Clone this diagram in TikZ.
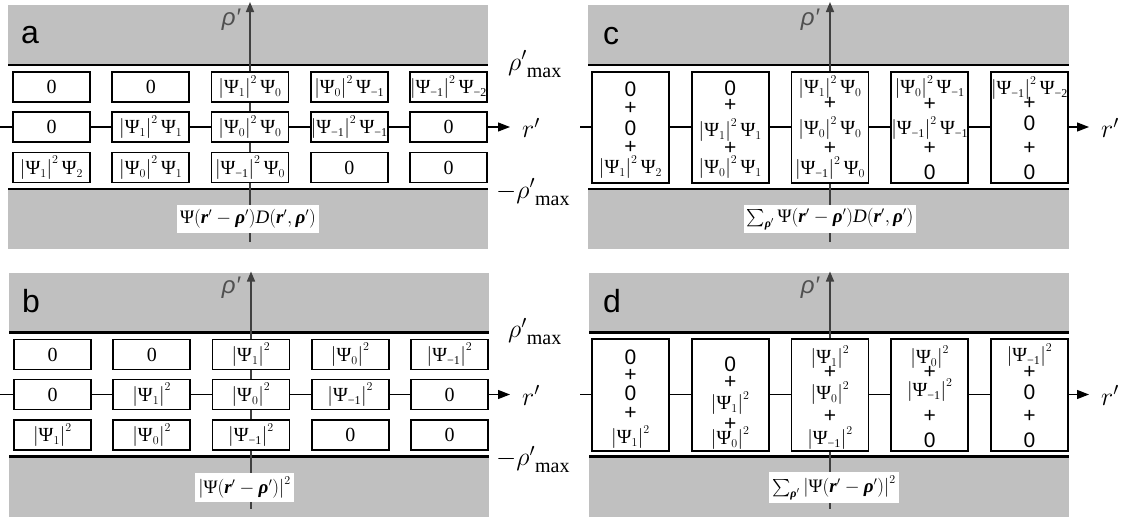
\RequirePackage{fix-cm}
\documentclass[tikz,border=0pt]{standalone}
\usepackage{amsmath}
\usepackage{bm}
\usepackage{fontspec}
\setmainfont{Liberation Serif}
\newfontfamily\arialf{Liberation Sans}
\usetikzlibrary{arrows.meta}
\DeclareMathSizes{20}{20}{12}{9}
\DeclareMathSizes{19}{19}{12}{9}
\definecolor{bandgray}{RGB}{192,192,192}
\definecolor{axgray}{RGB}{64,64,64}
\definecolor{lblgray}{RGB}{80,80,80}
\newcommand\PS{\text{Ψ}}
\newcommand\mo{\text{−1}}
\newcommand\mt{\text{−2}}
\newcommand\Rv{\text{\bfseries\itshape r}^{\prime}}
\newcommand\Rhov{\text{\bfseries\itshape ρ}^{\prime}}
\newcommand\Dit{\text{\itshape D}}
\newcommand\tmT[2]{\left|\PS_{#1}\right|^{2}\PS_{#2}}
\newcommand\sqT[1]{\left|\PS_{#1}\right|^{2}}
\newcommand\rmaxlab{$\rho'$\raisebox{-7pt}{\fontsize{20}{22}\selectfont max}}
\begin{document}
\begin{tikzpicture}[x=1pt,y=-1pt,
  cellA/.style={draw=black,line width=1.6pt,fill=white,minimum width=77pt,minimum height=30pt,inner sep=0pt,font=\fontsize{20}{22}\selectfont},
  cellT/.style={draw=black,line width=1.6pt,fill=white,minimum width=77pt,minimum height=111pt,inner sep=0pt},
  mterm/.style={inner sep=0pt,font=\fontsize{20}{22}\selectfont},
  sterm/.style={inner sep=0pt,font=\arialf\fontsize{21}{23}\selectfont},
  bandline/.style={line width=2.5pt,black},
  haxis/.style={line width=1.2pt,black,-{Triangle[length=12pt,width=9pt]}},
  vaxis/.style={line width=1.5pt,axgray,-{Triangle[length=10pt,width=8pt]}},
  formula/.style={fill=white,inner sep=3pt,minimum height=28pt,font=\fontsize{19}{21}\selectfont},
  plabel/.style={font=\arialf\fontsize{32}{36}\selectfont,inner sep=0pt,anchor=base west},
  axlabel/.style={text=lblgray,font=\arialf\itshape\fontsize{24}{26}\selectfont,inner sep=0pt},
  sidelabel/.style={inner sep=0pt,anchor=west,font=\fontsize{26}{28}\selectfont}
]
\useasboundingbox (0,0) rectangle (1125,517);

% ================= panel a =================
\fill[bandgray] (8,5) rectangle (488,249);
\fill[white] (8,65) rectangle (488,189);
\draw[bandline] (8,65) -- (488,65);
\draw[bandline] (8,189) -- (488,189);
\coordinate (aHs) at (0,127); \coordinate (aHe) at (510,127);
\coordinate (aVs) at (250,242); \coordinate (aVe) at (250,2);
\draw[haxis] (aHs) -- (aHe);
\draw[vaxis] (aVs) -- (aVe);
\node[cellA] (a11) at (51.5,87) {0};
\node[cellA] (a12) at (150.75,87) {0};
\node[cellA] (a13) at (250,87) {$\tmT{1}{0}$};
\node[cellA] (a14) at (349.25,87) {$\tmT{0}{\mo}$};
\node[cellA] (a15) at (448.5,87) {$\tmT{\mo}{\mt}$};
\node[cellA] (a21) at (51.5,127) {0};
\node[cellA] (a22) at (150.75,127) {$\tmT{1}{1}$};
\node[cellA] (a23) at (250,127) {$\tmT{0}{0}$};
\node[cellA] (a24) at (349.25,127) {$\tmT{\mo}{\mo}$};
\node[cellA] (a25) at (448.5,127) {0};
\node[cellA] (a31) at (51.5,167.5) {$\tmT{1}{2}$};
\node[cellA] (a32) at (150.75,167.5) {$\tmT{0}{1}$};
\node[cellA] (a33) at (250,167.5) {$\tmT{\mo}{0}$};
\node[cellA] (a34) at (349.25,167.5) {0};
\node[cellA] (a35) at (448.5,167.5) {0};
\node[formula] (aF) at (248,219) {$\PS(\Rv-\Rhov)\Dit(\Rv,\Rhov)$};
\node[plabel] (aL) at (21,43) {a};
\node[axlabel] (aA) at (231,20) {ρ′};
\node[sidelabel] (aMx) at (508,64) {\rmaxlab};
\node[sidelabel] (aR) at (522,128) {$r'$};
\node[sidelabel] (aMn) at (496,192) {$-$\rmaxlab};

% ================= panel b =================
\begin{scope}[shift={(1,267.5)}]
\fill[bandgray] (8,5) rectangle (488,249);
\fill[white] (8,65) rectangle (488,189);
\draw[bandline] (8,65) -- (488,65);
\draw[bandline] (8,189) -- (488,189);
\coordinate (bHs) at (-1,127); \coordinate (bHe) at (509,127);
\coordinate (bVs) at (250,241); \coordinate (bVe) at (250,4);
\draw[haxis] (bHs) -- (bHe);
\draw[vaxis] (bVs) -- (bVe);
\node[cellA] (b11) at (51.5,87) {0};
\node[cellA] (b12) at (150.75,87) {0};
\node[cellA] (b13) at (250,87) {$\sqT{1}$};
\node[cellA] (b14) at (349.25,87) {$\sqT{0}$};
\node[cellA] (b15) at (448.5,87) {$\sqT{\mo}$};
\node[cellA] (b21) at (51.5,127) {0};
\node[cellA] (b22) at (150.75,127) {$\sqT{1}$};
\node[cellA] (b23) at (250,127) {$\sqT{0}$};
\node[cellA] (b24) at (349.25,127) {$\sqT{\mo}$};
\node[cellA] (b25) at (448.5,127) {0};
\node[cellA] (b31) at (51.5,167.5) {$\sqT{1}$};
\node[cellA] (b32) at (150.75,167.5) {$\sqT{0}$};
\node[cellA] (b33) at (250,167.5) {$\sqT{\mo}$};
\node[cellA] (b34) at (349.25,167.5) {0};
\node[cellA] (b35) at (448.5,167.5) {0};
\node[formula] (bF) at (243.5,220) {$\left|\PS(\Rv-\Rhov)\right|^{2}$};
\node[plabel] (bL) at (21,45) {b};
\node[axlabel] (bA) at (230,20) {ρ′};
\node[sidelabel] (bMx) at (507,64) {\rmaxlab};
\node[sidelabel] (bR) at (521,128) {$r'$};
\node[sidelabel] (bMn) at (495,192) {$-$\rmaxlab};
\end{scope}

% ================= panel c =================
\fill[bandgray] (588,5) rectangle (1069,249);
\fill[white] (588,65) rectangle (1069,189);
\draw[bandline] (588,65) -- (1069,65);
\draw[bandline] (588,189) -- (1069,189);
\coordinate (cHs) at (580,127); \coordinate (cHe) at (1089,127);
\coordinate (cVs) at (830,242); \coordinate (cVe) at (830,2);
\draw[haxis] (cHs) -- (cHe);
\draw[vaxis] (cVs) -- (cVe);
\node[cellT] (c1) at (630.5,127.5) {};
\node[cellT] (c2) at (730.25,127.5) {};
\node[cellT] (c3) at (830,127.5) {};
\node[cellT] (c4) at (929.75,127.5) {};
\node[cellT] (c5) at (1029.5,127.5) {};
\node[sterm] (c1a) at ([yshift=38.5pt]c1.center) {0};
\node[sterm] (c1b) at ([yshift=19.5pt]c1.center) {+};
\node[sterm] (c1c) at ([yshift=-0.5pt]c1.center) {0};
\node[sterm] (c1d) at ([yshift=-19.5pt]c1.center) {+};
\node[mterm] (c1e) at ([yshift=-39.5pt]c1.center) {$\tmT{1}{2}$};
\node[sterm] (c2a) at ([yshift=39.5pt]c2.center) {0};
\node[sterm] (c2b) at ([yshift=22.5pt]c2.center) {+};
\node[mterm] (c2c) at ([yshift=-2.5pt]c2.center) {$\tmT{1}{1}$};
\node[sterm] (c2d) at ([yshift=-20.5pt]c2.center) {+};
\node[mterm] (c2e) at ([yshift=-39.5pt]c2.center) {$\tmT{0}{1}$};
\node[mterm] (c3a) at ([yshift=40.5pt]c3.center) {$\tmT{1}{0}$};
\node[sterm] (c3b) at ([yshift=24pt]c3.center) {+};
\node[mterm] (c3c) at ([yshift=-0.5pt]c3.center) {$\tmT{0}{0}$};
\node[sterm] (c3d) at ([yshift=-20.5pt]c3.center) {+};
\node[mterm] (c3e) at ([yshift=-40.5pt]c3.center) {$\tmT{\mo}{0}$};
\node[mterm] (c4a) at ([yshift=40.5pt]c4.center) {$\tmT{0}{\mo}$};
\node[sterm] (c4b) at ([yshift=23pt]c4.center) {+};
\node[mterm] (c4c) at ([yshift=-0.5pt]c4.center) {$\tmT{\mo}{\mo}$};
\node[sterm] (c4d) at ([yshift=-20.5pt]c4.center) {+};
\node[sterm] (c4e) at ([yshift=-45pt]c4.center) {0};
\node[mterm] (c5a) at ([yshift=39.5pt]c5.center) {$\tmT{\mo}{\mt}$};
\node[sterm] (c5b) at ([yshift=24pt]c5.center) {+};
\node[sterm] (c5c) at ([yshift=4.5pt]c5.center) {0};
\node[sterm] (c5d) at ([yshift=-20.5pt]c5.center) {+};
\node[sterm] (c5e) at ([yshift=-45pt]c5.center) {0};
\node[formula] (cF) at (830,219) {$\sum_{\Rhov}\PS(\Rv-\Rhov)\Dit(\Rv,\Rhov)$};
\node[plabel] (cL) at (603,44) {c};
\node[axlabel] (cA) at (810,20) {ρ′};
\node[sidelabel] (cR) at (1101,128) {$r'$};

% ================= panel d =================
\begin{scope}[shift={(0,267.5)}]
\fill[bandgray] (589,5) rectangle (1069,249);
\fill[white] (589,65) rectangle (1069,189);
\draw[bandline] (589,65) -- (1069,65);
\draw[bandline] (589,189) -- (1069,189);
\coordinate (dHs) at (580,127); \coordinate (dHe) at (1089,127);
\coordinate (dVs) at (830,241); \coordinate (dVe) at (830,4);
\draw[haxis] (dHs) -- (dHe);
\draw[vaxis] (dVs) -- (dVe);
\node[cellT,minimum height=112pt] (d1) at (630.5,127.5) {};
\node[cellT,minimum height=112pt] (d2) at (730.25,127.5) {};
\node[cellT,minimum height=112pt] (d3) at (830,127.5) {};
\node[cellT,minimum height=112pt] (d4) at (929.75,127.5) {};
\node[cellT,minimum height=112pt] (d5) at (1029.5,127.5) {};
\node[sterm] (d1a) at ([yshift=38pt]d1.center) {0};
\node[sterm] (d1b) at ([yshift=20pt]d1.center) {+};
\node[sterm] (d1c) at ([yshift=2pt]d1.center) {0};
\node[sterm] (d1d) at ([yshift=-18pt]d1.center) {+};
\node[mterm] (d1e) at ([yshift=-42pt]d1.center) {$\sqT{1}$};
\node[sterm] (d2a) at ([yshift=31pt]d2.center) {0};
\node[sterm] (d2b) at ([yshift=13pt]d2.center) {+};
\node[mterm] (d2c) at ([yshift=-8pt]d2.center) {$\sqT{1}$};
\node[sterm] (d2d) at ([yshift=-29pt]d2.center) {+};
\node[mterm] (d2e) at ([yshift=-43pt]d2.center) {$\sqT{0}$};
\node[mterm] (d3a) at ([yshift=38pt]d3.center) {$\sqT{1}$};
\node[sterm] (d3b) at ([yshift=23pt]d3.center) {+};
\node[mterm] (d3c) at ([yshift=2pt]d3.center) {$\sqT{0}$};
\node[sterm] (d3d) at ([yshift=-21pt]d3.center) {+};
\node[mterm] (d3e) at ([yshift=-43pt]d3.center) {$\sqT{\mo}$};
\node[mterm] (d4a) at ([yshift=38pt]d4.center) {$\sqT{0}$};
\node[sterm] (d4b) at ([yshift=23pt]d4.center) {+};
\node[mterm] (d4c) at ([yshift=5pt]d4.center) {$\sqT{\mo}$};
\node[sterm] (d4d) at ([yshift=-21pt]d4.center) {+};
\node[sterm] (d4e) at ([yshift=-45pt]d4.center) {0};
\node[mterm] (d5a) at ([yshift=40pt]d5.center) {$\sqT{\mo}$};
\node[sterm] (d5b) at ([yshift=23pt]d5.center) {+};
\node[sterm] (d5c) at ([yshift=3pt]d5.center) {0};
\node[sterm] (d5d) at ([yshift=-21pt]d5.center) {+};
\node[sterm] (d5e) at ([yshift=-45pt]d5.center) {0};
\node[formula] (dF) at (834,220) {$\sum_{\Rhov}\left|\PS(\Rv-\Rhov)\right|^{2}$};
\node[plabel] (dL) at (603,45) {d};
\node[axlabel] (dA) at (810,20) {ρ′};
\node[sidelabel] (dR) at (1101,128) {$r'$};
\end{scope}
\end{tikzpicture}
\end{document}
